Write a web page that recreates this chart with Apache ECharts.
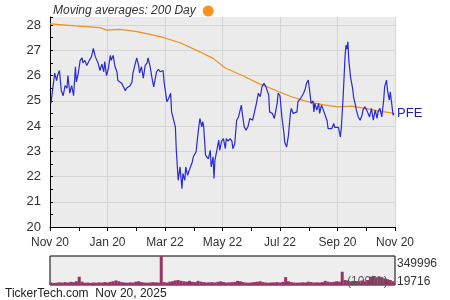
<!DOCTYPE html>
<html><head><meta charset="utf-8">
<script src="https://cdn.jsdelivr.net/npm/echarts@6/dist/echarts.min.js"></script>
<style>html,body{margin:0;padding:0;background:#fff}#c{width:450px;height:300px}</style>
</head><body><div id="c"></div>
<script>
// x values are days after Nov 20, 2024
const xTickLabels = ['Nov 20','Jan 20','Mar 22','May 22','Jul 22','Sep 20','Nov 20'];
const yTickLabels = ['20','21','22','23','24','25','26','27','28'];
const priceDays = [1,3,5,7,8,10,12,14,16,18,19,21,23,25,27,28,30,32,34,35,37,39,41,42,44,46,48,50,51,53,55,57,58,60,62,64,65,67,69,71,72,74,76,78,80,81,83,85,87,88,90,92,94,95,97,99,101,103,104,106,108,110,111,113,115,117,120,121,124,126,128,129,131,133,134,136,138,140,141,143,144,146,147,149,151,152,155,157,159,161,162,163,165,167,168,170,171,173,174,175,177,179,180,182,184,186,187,189,191,193,194,196,198,200,203,204,206,208,210,212,215,217,219,221,223,225,226,227,229,230,232,233,236,238,241,242,244,246,248,249,251,253,255,256,258,260,262,263,265,267,269,271,272,274,276,277,279,280,281,283,285,286,288,290,292,294,295,297,299,301,302,304,306,308,309,311,313,314,315,316,317,319,321,322,324,325,327,329,331,332,334,336,338,339,341,343,345,347,348,350,352,354,355,357,358,360,361,362,364,365];
const priceValues = [24.9,25.5,26.1,25.8,26.0,26.2,25.4,25.2,25.6,25.5,26.0,25.3,25.6,25.2,26.35,25.75,26.1,26.6,26.7,26.5,26.6,26.4,26.55,26.6,26.75,27.08,26.75,26.7,26.5,26.2,26.45,26.15,26.55,26.0,26.3,26.8,26.6,26.8,26.35,26.15,25.8,25.85,25.7,25.55,25.4,25.5,25.5,25.6,25.75,26.1,26.4,26.7,26.4,26.1,26.35,25.9,26.4,26.5,26.7,26.4,25.95,25.55,25.6,26.15,26.25,26.15,26.2,25.75,24.96,25.1,25.3,24.56,24.6,23.97,23.04,21.85,22.38,21.52,22.12,21.85,22.38,22.05,22.05,22.38,22.58,22.78,22.98,23.7,24.3,23.97,24.17,24.0,22.85,22.9,22.7,23.04,22.38,22.78,21.92,22.65,23.04,23.44,23.04,23.4,23.5,23.1,23.5,23.4,23.5,23.4,23.1,23.3,24.23,24.36,24.83,24.5,23.97,23.84,23.97,24.3,24.23,24.17,24.9,25.3,25.16,25.56,25.6,25.69,25.56,25.63,25.23,24.56,24.5,24.3,24.9,25.3,25.2,24.36,23.77,23.37,23.17,23.64,24.5,24.7,24.5,24.56,24.56,24.96,25.0,25.16,25.3,25.5,25.69,25.82,25.23,24.9,25.0,24.56,24.9,24.63,24.9,24.5,24.83,24.63,24.63,24.2,23.9,23.95,23.9,24.1,23.95,24.0,23.95,23.57,23.9,25.16,26.75,27.2,27.05,27.34,26.6,25.89,25.5,25.16,24.83,24.63,24.36,24.23,24.43,24.63,24.76,24.63,24.7,24.36,24.7,24.23,24.63,24.3,24.56,24.7,24.36,25.03,25.56,25.82,25.42,25.03,25.36,25.03,24.43,24.5];
const maDays = [0,27,53,60,69,74,85,95,117,138,159,173,186,204,221,239,256,274,292,306,320,334,348,362,365];
const maValues = [28.05,27.97,27.9,27.8,27.82,27.83,27.78,27.72,27.54,27.3,26.94,26.68,26.3,26.0,25.69,25.42,25.16,24.96,24.83,24.76,24.79,24.7,24.6,24.52,24.5];
// volume in thousands, one bar per 3 days starting at day 1
const volumeValues = [30000,25000,28000,32000,30000,35000,30000,38000,34000,45000,100000,40000,28000,30000,25000,30000,28000,32000,30000,35000,30000,38000,45000,55000,45000,35000,30000,28000,32000,30000,40000,45000,35000,30000,28000,30000,35000,32000,30000,349996,
35000,30000,40000,45000,55000,60000,50000,45000,40000,50000,38000,35000,50000,40000,35000,30000,32000,35000,30000,38000,45000,35000,30000,32000,35000,38000,50000,45000,35000,30000,28000,32000,35000,40000,45000,35000,30000,28000,30000,32000,35000,30000,38000,95000,45000,35000,30000,28000,30000,32000,30000,40000,35000,30000,32000,30000,35000,50000,40000,35000,38000,45000,40000,160000,60000,55000,45000,50000,48000,45000,55000,40000,60000,100000,110000,90000,105000,95000,80000,70000,60000,45000];
const volumeLabels = ['349996','19716'];

const priceData = priceDays.map((d,i)=>[d, priceValues[i]]);
const maData = maDays.map((d,i)=>[d, maValues[i]]);
const volData = volumeValues.map((v,i)=>[1+3*i, v]);

const font = 'Liberation Sans, Arial, sans-serif';
const chart = echarts.init(document.getElementById('c'), null, {renderer:'canvas'});
chart.setOption({
  animation:false,
  backgroundColor:'#fff',
  textStyle:{fontFamily:font},
  legend:{
    left:48, top:0, align:'right', icon:'circle', itemWidth:11, itemHeight:11, itemGap:6,
    data:['Moving averages: 200 Day'],
    textStyle:{fontStyle:'italic', fontSize:12, color:'#333', fontFamily:font, padding:[0,2,0,0]}
  },
  grid:[
    {left:50, right:55, top:17, bottom:73, show:true, backgroundColor:'#ebebeb', borderWidth:0},
    {left:50, right:55, top:256, bottom:15, show:true, backgroundColor:'#eeeeee', borderColor:'#000', borderWidth:1}
  ],
  xAxis:[
    {type:'value', gridIndex:0, min:0, max:366, interval:61,
     axisLine:{show:true, lineStyle:{color:'#000', width:1}},
     axisTick:{show:true, length:4, lineStyle:{color:'#000'}},
     minorTick:{show:true, splitNumber:2, length:4, lineStyle:{color:'#000'}},
     splitLine:{show:true, lineStyle:{color:'#d4d4d4'}},
     axisLabel:{color:'#333', fontSize:12, margin:10, fontFamily:font,
       formatter:v=>xTickLabels[Math.round(v/61)]}},
    {type:'value', gridIndex:1, min:0, max:366, interval:61,
     axisLine:{show:false}, axisTick:{show:false}, axisLabel:{show:false}, splitLine:{show:false}}
  ],
  yAxis:[
    {type:'value', gridIndex:0, min:20, max:28.32, interval:1,
     axisLine:{show:true, lineStyle:{color:'#000', width:1}},
     axisTick:{show:true, inside:true, length:3, lineStyle:{color:'#000'}},
     minorTick:{show:true, splitNumber:2, length:3, lineStyle:{color:'#000'}},
     splitLine:{show:true, showMaxLine:false, lineStyle:{color:'#d4d4d4'}},
     axisLabel:{color:'#333', fontSize:13, margin:9, showMaxLabel:false, fontFamily:font,
       formatter:v=>{const i=Math.round(v-20); return Math.abs(v-20-i)<1e-6 ? yTickLabels[i] : '';}}},
    {type:'value', gridIndex:1, min:0, max:349996,
     axisLine:{show:false}, axisTick:{show:false}, axisLabel:{show:false}, splitLine:{show:false}}
  ],
  series:[
    {name:'Moving averages: 200 Day', type:'line', xAxisIndex:0, yAxisIndex:0, data:maData,
     showSymbol:false, symbol:'none', color:'#f7931e', lineStyle:{color:'#f0901e', width:1.2}, z:3},
    {name:'PFE', type:'line', xAxisIndex:0, yAxisIndex:0, data:priceData,
     showSymbol:false, symbol:'none', lineStyle:{color:'#2a2ad2', width:1.2}, z:4,
     endLabel:{show:true, formatter:'PFE', color:'#1f1fa8', fontSize:13, distance:3, fontFamily:font}},
    {name:'Volume', type:'bar', xAxisIndex:1, yAxisIndex:1, data:volData, barWidth:3,
     itemStyle:{color:'#993366'}, z:2}
  ],
  graphic:[
    {type:'text', left:397, top:258, style:{text:volumeLabels[0], fill:'#333', font:'12px '+font}},
    {type:'text', left:397, top:276, style:{text:volumeLabels[1], fill:'#333', font:'12px '+font}},
    {type:'text', left:347, top:276, z:100, style:{text:'(1000s)', fill:'#555', font:'12px '+font}},
    {type:'text', left:5, top:288, style:{text:'TickerTech.com  Nov 20, 2025', fill:'#222', font:'12px '+font}}
  ]
});
</script></body></html>
